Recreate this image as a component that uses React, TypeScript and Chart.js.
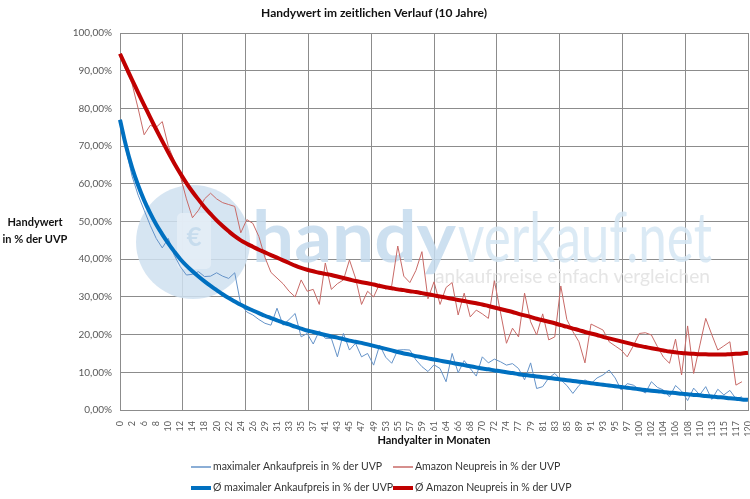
import React, { useEffect, useRef } from 'react';
import { Chart, registerables } from 'chart.js';
Chart.register(...registerables);

const months = [0,1,2,4,6,7,8,9,10,11,12,13,14,16,18,19,20,21,22,23,24,25,26,28,29,30,31,32,33,34,35,36,37,39,41,42,43,44,45,46,47,48,49,51,53,54,55,56,57,58,59,60,61,63,64,65,66,67,68,69,70,71,72,73,74,76,77,78,79,80,81,82,83,84,85,87,89,90,91,92,93,94,95,96,97,99,100,101,102,103,104,105,106,107,108,109,110,112,113,114,115,116,117,119,120];

const ankaufpreis = [
  77, 69, 62, 57, 53, 49, 45.5, 43, 45.5, 41,
  38, 35.8, 36, 36.7, 35.4, 35.5, 36.4, 35.5, 34.9, 36.4,
  28, 26, 25.2, 24, 23, 22.5, 27, 22.5, 24, 25.6,
  19.4, 20.3, 17.5, 21, 19, 19, 14.1, 20.3, 15.9, 17.7,
  14.1, 15, 11.9, 17.2, 14, 12.4, 15.9, 16, 15.9, 13.3,
  11.5, 10.2, 12, 11, 7.5, 15, 9.9, 13.1, 11, 9,
  14.1, 12.5, 13.5, 12.8, 11.9, 12.3, 11, 8, 12.5, 5.7,
  6.2, 8.5, 9.7, 8, 6.5, 4.4, 6.5, 8, 7, 8.5,
  9.3, 10.6, 8.5, 5.3, 7, 6.6, 5.5, 4.5, 7.5, 6,
  5.3, 3.5, 6.5, 5, 2.5, 5.8, 4, 6.2, 2.8, 5.5,
  4, 5.2, 3, 3.5, null
];

const amazon = [
  94, 90, 86.5, 80, 73, 75.5, 75, 76.5, 70, 66,
  62, 56, 51, 53, 56, 57.5, 56, 55, 54.5, 54,
  47, 50.5, 49.5, 46, 40.5, 36.5, 35, 33.5, 31.5, 30,
  34.5, 31.5, 32, 28, 39, 32, 33.5, 34.5, 39.8, 35,
  28, 31.5, 30, 33.5, 32, 33, 43.5, 35.5, 33.8, 37,
  42, 29.5, 34, 28, 32.5, 33.8, 25.2, 31, 24.7, 26.5,
  25.5, 24.3, 34.3, 26, 17.7, 21.7, 19.4, 31, 23.4, 19.9,
  25.5, 18.6, 19.4, 32.9, 24, 20.8, 18.1, 12.5, 22.8, 22,
  21.2, 18.1, 17, 15.9, 14.1, 17, 20.3, 20.5, 19.9, 16.8,
  14, 12.4, 18.8, 9.3, 22.3, 9.7, 17, 24.3, 20, 15.9,
  17, 18.1, 6.6, 7.5, null
];

const avgAnkaufpreis = [
  77.0, 70.0, 64.3, 59.6, 55.6, 52.2, 49.2, 46.6, 44.2, 42.0,
  40.0, 38.3, 36.8, 35.4, 34.1, 32.9, 31.8, 30.7, 29.7, 28.8,
  27.9, 27.1, 26.4, 25.7, 25.0, 24.4, 23.8, 23.2, 22.7, 22.1,
  21.6, 21.1, 20.7, 20.3, 19.9, 19.5, 19.2, 18.8, 18.4, 18.1,
  17.8, 17.4, 17.0, 16.6, 16.2, 15.8, 15.4, 15.0, 14.7, 14.3,
  14.0, 13.7, 13.4, 13.1, 12.8, 12.5, 12.2, 11.9, 11.6, 11.3,
  11.0, 10.8, 10.5, 10.3, 10.0, 9.8, 9.5, 9.3, 9.1, 8.9,
  8.7, 8.5, 8.3, 8.1, 7.9, 7.7, 7.5, 7.3, 7.1, 6.9,
  6.7, 6.5, 6.3, 6.1, 5.9, 5.7, 5.5, 5.3, 5.1, 5.0,
  4.8, 4.6, 4.5, 4.3, 4.2, 4.0, 3.9, 3.7, 3.6, 3.4,
  3.3, 3.1, 3.0, 2.8, 2.7
];

const avgAmazon = [
  94.5, 91.0, 87.6, 84.2, 80.9, 77.6, 74.4, 71.3, 68.3, 65.4,
  62.7, 60.2, 57.9, 55.8, 53.8, 52.0, 50.3, 48.8, 47.4, 46.1,
  45.0, 44.1, 43.3, 42.5, 41.8, 41.1, 40.4, 39.7, 39.0, 38.3,
  37.7, 37.2, 36.8, 36.4, 36.1, 35.8, 35.4, 35.0, 34.6, 34.2,
  33.9, 33.6, 33.3, 32.9, 32.6, 32.3, 32.0, 31.8, 31.5, 31.3,
  31.0, 30.7, 30.4, 30.1, 29.8, 29.5, 29.2, 28.9, 28.6, 28.3,
  28.0, 27.6, 27.2, 26.8, 26.4, 26.0, 25.5, 25.1, 24.7, 24.2,
  23.8, 23.4, 23.0, 22.5, 22.1, 21.6, 21.2, 20.7, 20.3, 19.9,
  19.4, 19.0, 18.6, 18.2, 17.8, 17.4, 17.0, 16.7, 16.4, 16.1,
  15.8, 15.5, 15.3, 15.1, 15.0, 14.9, 14.8, 14.8, 14.7, 14.7,
  14.7, 14.8, 14.9, 15.0, 15.2
];

const yTicks = [0, 10, 20, 30, 40, 50, 60, 70, 80, 90, 100];
const gridMonths = [0, 12, 24, 36, 48, 60, 72, 84, 96, 108, 120];

const seriesLabels = [
  'maximaler Ankaufpreis in % der UVP',
  'Amazon Neupreis in % der UVP',
  'Ø maximaler Ankaufpreis in % der UVP',
  'Ø Amazon Neupreis in % der UVP',
];
const colors = ['#6593c8', '#c86a67', '#0070c0', '#c00000'];
const widths = [1, 1, 4, 4];

const FONT = 'Lato, "Open Sans", sans-serif';

function fitText(ctx: CanvasRenderingContext2D, text: string, font: string, x: number, y: number, w: number, color: string) {
  ctx.font = font;
  const mw = ctx.measureText(text).width;
  ctx.save();
  ctx.translate(x, y);
  ctx.scale(w / mw, 1);
  ctx.fillStyle = color;
  ctx.textAlign = 'left';
  ctx.textBaseline = 'alphabetic';
  ctx.fillText(text, 0, 0);
  ctx.restore();
}

const watermark = {
  id: 'watermark',
  beforeDatasetsDraw(chart: any) {
    const ctx = chart.ctx as CanvasRenderingContext2D;
    ctx.save();
    ctx.globalAlpha = 0.85;
    ctx.fillStyle = '#cfe1f0';
    ctx.beginPath();
    ctx.arc(193, 242, 57, 0, Math.PI * 2);
    ctx.fill();
    ctx.fillStyle = '#e6eff7';
    ctx.beginPath();
    (ctx as any).roundRect(177, 213, 34, 56, 5);
    ctx.fill();
    ctx.fillStyle = '#c3d9ec';
    ctx.font = `bold 26px ${FONT}`;
    ctx.textAlign = 'center';
    ctx.textBaseline = 'middle';
    ctx.fillText('€', 194, 238);
    fitText(ctx, 'handy', `bold 70px ${FONT}`, 252, 262, 204, '#c4daed');
    fitText(ctx, 'verkauf.net', `70px ${FONT}`, 458, 262, 254, '#d5e6f3');
    fitText(ctx, 'ankaufpreise einfach vergleichen', `19px ${FONT}`, 435, 283, 275, '#e0e0e0');
    ctx.restore();
  },
};

const texts = {
  id: 'texts',
  afterDraw(chart: any) {
    const ctx = chart.ctx as CanvasRenderingContext2D;
    ctx.save();
    ctx.fillStyle = '#111';
    ctx.textAlign = 'center';
    ctx.textBaseline = 'middle';
    ctx.font = `bold 12px ${FONT}`;
    ctx.fillText('Handywert im zeitlichen Verlauf (10 Jahre)', 374, 13);
    ctx.font = `bold 11px ${FONT}`;
    ctx.fillText('Handywert', 35, 222);
    ctx.fillText('in % der UVP', 35, 239);
    ctx.fillText('Handyalter in Monaten', 434, 440);

    const items = [
      { x: 191, y: 467, i: 0 },
      { x: 393, y: 467, i: 1 },
      { x: 191, y: 488, i: 2 },
      { x: 393, y: 488, i: 3 },
    ];
    ctx.font = `10.5px ${FONT}`;
    ctx.textAlign = 'left';
    for (const it of items) {
      ctx.strokeStyle = colors[it.i];
      ctx.lineWidth = it.i < 2 ? 1.5 : 4;
      ctx.beginPath();
      ctx.moveTo(it.x, it.y);
      ctx.lineTo(it.x + 20, it.y);
      ctx.stroke();
      ctx.fillStyle = '#333';
      ctx.fillText(seriesLabels[it.i], it.x + 22, it.y);
    }
    ctx.restore();
  },
};

export default function App() {
  const ref = useRef<HTMLCanvasElement>(null);
  useEffect(() => {
    const canvas = ref.current!;
    const data = [ankaufpreis, amazon, avgAnkaufpreis, avgAmazon];
    const chart = new Chart(canvas, {
      type: 'line',
      data: {
        labels: months.map(String),
        datasets: data.map((d, i) => ({
          label: seriesLabels[i],
          data: d,
          borderColor: colors[i],
          backgroundColor: colors[i],
          borderWidth: widths[i],
          pointRadius: 0,
          tension: i < 2 ? 0 : 0.4,
          order: i < 2 ? 2 : 1,
          spanGaps: false,
          fill: false,
        })),
      },
      options: {
        animation: false,
        responsive: false,
        events: [],
        layout: { padding: { left: 70, right: 2, top: 33, bottom: 0 } },
        plugins: { legend: { display: false }, tooltip: { enabled: false }, title: { display: false } },
        scales: {
          x: {
            type: 'category',
            grid: { display: false },
            border: { display: true, color: '#8c8c8c' },
            ticks: {
              autoSkip: false,
              minRotation: 90,
              maxRotation: 90,
              padding: 3,
              color: '#595959',
              font: { family: FONT, size: 9 },
              callback: (_v: any, i: number) => (i % 2 === 0 ? String(months[i]) : ''),
            },
            afterFit: (s: any) => { s.height = 89; s.paddingLeft = 0; s.paddingRight = 0; },
          },
          xg: {
            type: 'linear',
            position: 'bottom',
            min: gridMonths[0],
            max: gridMonths[gridMonths.length - 1],
            afterBuildTicks: (s: any) => { s.ticks = gridMonths.map((v) => ({ value: v })); },
            ticks: { display: false },
            grid: { color: '#8c8c8c', drawTicks: false },
            border: { display: false },
            afterFit: (s: any) => { s.height = 0; s.paddingLeft = 0; s.paddingRight = 0; },
          },
          y: {
            min: 0,
            max: 100,
            afterBuildTicks: (s: any) => { s.ticks = yTicks.map((v) => ({ value: v })); },
            ticks: {
              padding: 8,
              color: '#595959',
              font: { family: FONT, size: 10 },
              callback: (v: any) => Number(v).toFixed(2).replace('.', ',') + '%',
            },
            grid: { color: '#8c8c8c', drawTicks: false },
            border: { color: '#8c8c8c' },
            afterFit: (s: any) => { s.width = 50; },
          },
        },
      } as any,
      plugins: [watermark, texts],
    });
    return () => chart.destroy();
  }, []);
  return (
    <div style={{ position: 'fixed', left: 0, top: 0, width: 750, height: 499, background: '#fff' }}>
      <canvas ref={ref} width={750} height={499} style={{ width: 750, height: 499, display: 'block' }} />
    </div>
  );
}
